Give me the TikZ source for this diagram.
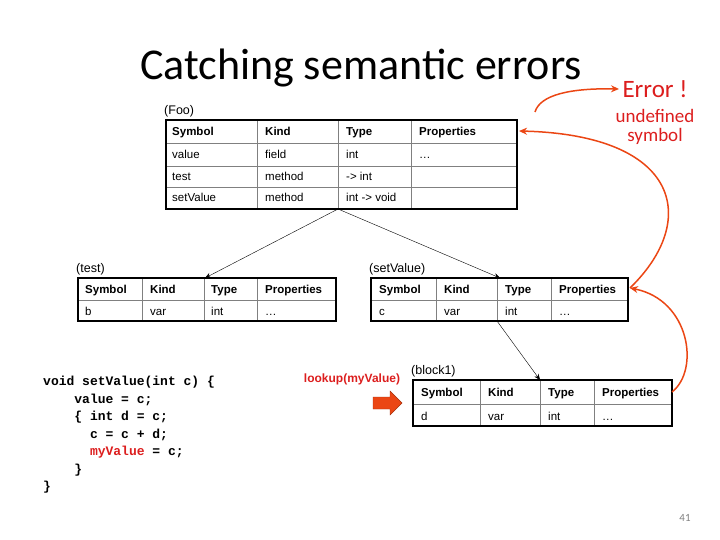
\documentclass[tikz,border=0pt]{standalone}
\usepackage{fontspec}
\setmainfont{Liberation Sans}
\newfontfamily\calib{Carlito}
\newfontfamily\cour{Liberation Mono}
\usetikzlibrary{arrows.meta}
\definecolor{errred}{RGB}{220,30,30}
\definecolor{arrred}{RGB}{235,70,20}
\tikzset{
 cell/.style={anchor=base west,font=\fontsize{11.5}{13}\selectfont,inner sep=0pt},
 hcell/.style={cell,font=\fontsize{11.5}{13}\selectfont\bfseries},
 tlabel/.style={anchor=south west,font=\fontsize{12.5}{14}\selectfont,inner sep=1pt},
 link/.style={-{Stealth[length=6pt,width=5pt]},black},
 redlink/.style={-{Stealth[length=8pt,width=7pt]},arrred,line width=1.5pt},
}
\begin{document}
\begin{tikzpicture}[x=1pt,y=-1pt]
\useasboundingbox (0,0) rectangle (720,540);
\node[font=\calib\fontsize{44}{50}\selectfont] (title) at (361,68) {Catching semantic errors};
% Foo table
\node[tlabel] (foolab) at (163,118) {(Foo)};
\draw[gray,line width=0.8pt] (166,143)--(517,143) (166,166)--(517,166) (166,187)--(517,187)
 (257,120)--(257,209) (338,120)--(338,209) (411,120)--(411,209);
\draw[line width=1.5pt] (166,120) rectangle (517,209);
\foreach \x/\t in {172/Symbol,265/Kind,346/Type,419/Properties} \node[hcell] at (\x,136) {\t};
\foreach \x/\t in {172/value,265/field,346/int,419/\ldots} \node[cell] at (\x,159) {\t};
\foreach \x/\t in {172/test,265/method,346/{-> int}} \node[cell] at (\x,181) {\t};
\foreach \x/\t in {172/setValue,265/method,346/{int -> void}} \node[cell] at (\x,202) {\t};
\coordinate (fooBot) at (338,209);
\coordinate (fooHead) at (519,131);
% test table
\node[tlabel] (testlab) at (75,276) {(test)};
\draw[gray,line width=0.8pt] (78,300)--(336,300) (142,278)--(142,321) (204,278)--(204,321) (257,278)--(257,321);
\draw[line width=1.5pt] (78,278) rectangle (336,321);
\foreach \x/\t in {85/Symbol,150/Kind,211/Type,265/Properties} \node[hcell] at (\x,293) {\t};
\foreach \x/\t in {85/b,150/var,211/int,265/\ldots} \node[cell] at (\x,315) {\t};
\coordinate (testTop) at (205,278);
% setValue table
\node[tlabel] (svlab) at (368,276) {(setValue)};
\draw[gray,line width=0.8pt] (371,300)--(628,300) (436,278)--(436,321) (497,278)--(497,321) (551,278)--(551,321);
\draw[line width=1.5pt] (371,278) rectangle (628,321);
\foreach \x/\t in {379/Symbol,444/Kind,505/Type,559/Properties} \node[hcell] at (\x,293) {\t};
\foreach \x/\t in {379/c,444/var,505/int,559/\ldots} \node[cell] at (\x,315) {\t};
\coordinate (svTop) at (500,278);
\coordinate (svBot) at (497,321);
\coordinate (svRight) at (630,288);
% block1 table
\node[tlabel] (blab) at (410,378) {(block1)};
\draw[gray,line width=0.8pt] (413,404)--(672,404) (480,380)--(480,426) (540,380)--(540,426) (594,380)--(594,426);
\draw[line width=1.5pt] (413,380) rectangle (672,426);
\foreach \x/\t in {421/Symbol,488/Kind,548/Type,602/Properties} \node[hcell] at (\x,396) {\t};
\foreach \x/\t in {421/d,488/var,548/int,602/\ldots} \node[cell] at (\x,420) {\t};
\coordinate (bTop) at (540,380);
\coordinate (bRight) at (672,392);
% tree arrows
\draw[link] (fooBot) -- (testTop);
\draw[link] (fooBot) -- (svTop);
\draw[link] (svBot) -- (bTop);
% error text
\node[text=errred,font=\calib\fontsize{25}{28}\selectfont] (err) at (655,89) {Error !};
\node[text=errred,font=\calib\fontsize{19}{19}\selectfont,align=center] (undef) at (655,127) {undefined\\symbol};
% red arrows
\draw[redlink] (535,112) .. controls (540,95) and (570,88) .. (err.west);
\draw[redlink] (bRight) .. controls (700,370) and (690,300) .. (svRight);
\draw[redlink] (svRight) .. controls (700,220) and (680,135) .. (fooHead);
% lookup
\node[text=errred,font=\fontsize{12}{14}\selectfont\bfseries] (lookup) at (352,379) {lookup(myValue)};
\draw[fill=arrred,draw=arrred!70!black] (373,397)--(390,397)--(390,391)--(402,403)--(390,415)--(390,409)--(373,409)--cycle;
% code
\node[anchor=north west,font=\cour\bfseries\fontsize{13}{17.5}\selectfont,align=left,inner sep=0pt] (code) at (43,376) {%
void setValue(int c) \{\\
\ \ \ \ value = c;\\
\ \ \ \ \{ int d = c;\\
\ \ \ \ \ \ c = c + d;\\
\ \ \ \ \ \ \textcolor{errred}{myValue} = c;\\
\ \ \ \ \}\\
\}};
\node[text=gray,font=\calib\fontsize{11}{13}\selectfont] (pg) at (685,518) {41};
\end{tikzpicture}
\end{document}
